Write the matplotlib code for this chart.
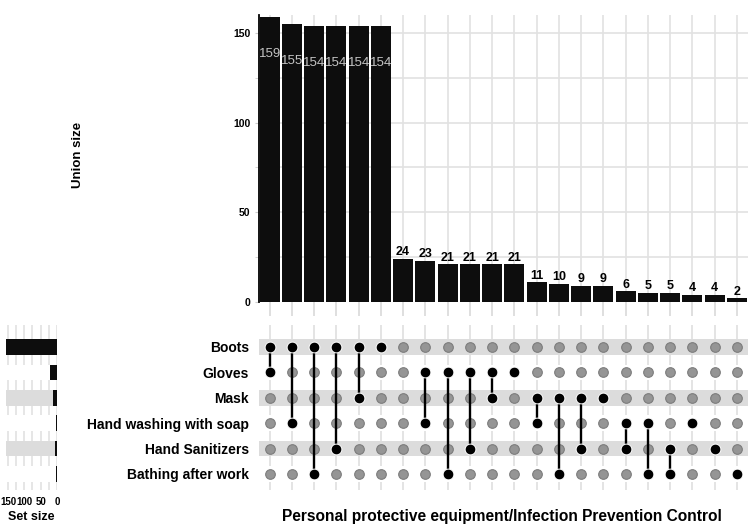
import matplotlib
matplotlib.use("Agg")
import matplotlib.pyplot as plt
import numpy as np

plt.rcParams['font.family'] = ['Liberation Sans', 'DejaVu Sans']

sets = ["Boots", "Gloves", "Mask", "Hand washing with soap",
        "Hand Sanitizers", "Bathing after work"]
set_sizes = [155, 20, 12, 3, 5, 3]
union_sizes = [159, 155, 154, 154, 154, 154, 24, 23, 21, 21, 21, 21,
               11, 10, 9, 9, 6, 5, 5, 4, 4, 2]
intersections = [
    ("Boots", "Gloves"),
    ("Boots", "Hand washing with soap"),
    ("Boots", "Bathing after work"),
    ("Boots", "Hand Sanitizers"),
    ("Boots", "Mask"),
    ("Boots",),
    (),
    ("Gloves", "Hand washing with soap"),
    ("Gloves", "Bathing after work"),
    ("Gloves", "Hand Sanitizers"),
    ("Gloves", "Mask"),
    ("Gloves",),
    ("Mask", "Hand washing with soap"),
    ("Mask", "Bathing after work"),
    ("Mask", "Hand Sanitizers"),
    ("Mask",),
    ("Hand washing with soap", "Hand Sanitizers"),
    ("Hand washing with soap", "Bathing after work"),
    ("Hand Sanitizers", "Bathing after work"),
    ("Hand washing with soap",),
    ("Hand Sanitizers",),
    ("Bathing after work",),
]

W, H = 751, 527
fig = plt.figure(figsize=(W / 100, H / 100), dpi=100)


def ax_px(x0, y0, x1, y1):
    return fig.add_axes([x0 / W, 1 - y1 / H, (x1 - x0) / W, (y1 - y0) / H])


BAR = '#0d0d0d'
GRID = '#e2e2e2'
STRIPE = '#dcdcdc'
n = len(union_sizes)
xs = np.arange(n)
rows = np.arange(len(sets))

# ---------------- top bar panel ----------------
axb = ax_px(258.5, 15, 748, 302)
axb.set_xlim(-0.5, n - 0.5)
axb.set_ylim(0, 160)
for v in [25, 50, 75, 100, 125, 150]:
    axb.axhline(v, color=GRID, lw=1.2, zorder=0)
for x in xs:
    axb.axvline(x, color=GRID, lw=1.2, zorder=0)
axb.bar(xs, union_sizes, width=0.9, color=BAR, zorder=3)
for x, v in zip(xs, union_sizes):
    if v > 100:
        axb.annotate(str(v), (x, v), xytext=(0, -27), textcoords='offset points',
                     ha='center', va='center', color='#c4c4c4', fontsize=9.5, zorder=4)
    else:
        axb.annotate(str(v), (x, v), xytext=(0, 0.5), textcoords='offset points',
                     ha='center', va='bottom', color='black', fontsize=9,
                     fontweight='bold', zorder=4)
for s in ['top', 'right', 'bottom']:
    axb.spines[s].set_visible(False)
axb.spines['left'].set_linewidth(1.3)
axb.spines['left'].set_color('black')
axb.set_yticks([0, 50, 100, 150])
axb.set_yticklabels(['0', '50', '100', '150'], fontsize=7.5, fontweight='bold')
axb.set_yticks([25, 75, 125], minor=True)
axb.tick_params(axis='y', which='both', length=3, color='#cccccc', pad=3)
axb.set_xticks(xs)
axb.set_xticklabels([])
axb.tick_params(axis='x', length=10, width=1.2, color='#d9d9d9', direction='out')

fig.text(78 / W, 1 - 155 / H, 'Union size', rotation=90, ha='center', va='center',
         fontsize=9.5, fontweight='bold')

# ---------------- matrix panel ----------------
axm = ax_px(258.5, 325, 748, 490)
axm.set_xlim(-0.5, n - 0.5)
axm.set_ylim(5.63, -0.866)
for x in xs:
    axm.axvline(x, color=GRID, lw=1.3, zorder=0)
for r in rows:
    axm.axhspan(r - 0.31, r + 0.31, color=STRIPE if r % 2 == 0 else 'white',
                lw=0, zorder=1)
idx = {s: i for i, s in enumerate(sets)}
for x, inter in zip(xs, intersections):
    active = [idx[s] for s in inter]
    inactive = [r for r in rows if r not in active]
    axm.scatter([x] * len(inactive), inactive, s=48, color='#959595',
                edgecolors='#7c7c7c', linewidths=0.8, zorder=2)
    if len(active) > 1:
        axm.plot([x, x], [min(active), max(active)], color='black', lw=1.7,
                 zorder=3, solid_capstyle='butt')
    if active:
        axm.scatter([x] * len(active), active, s=60, color='black',
                    edgecolors='white', linewidths=0.7, zorder=4)
for s in axm.spines.values():
    s.set_visible(False)
axm.set_xticks([])
axm.set_yticks(rows)
axm.set_yticklabels(sets, fontsize=10, fontweight='bold')
axm.tick_params(axis='y', length=0, pad=7)

fig.text(502 / W, 1 - 517 / H,
         'Personal protective equipment/Infection Prevention Control',
         ha='center', va='center', fontsize=11.2, fontweight='bold')

# ---------------- set size panel ----------------
axs = ax_px(6, 325, 57, 490)
axs.set_xlim(156, 0)
axs.set_ylim(5.63, -0.866)
for v in [0, 25, 50, 75, 100, 125, 150]:
    axs.axvline(v, color=GRID, lw=1.2, zorder=0)
for r in rows:
    axs.axhspan(r - 0.31, r + 0.31, color=STRIPE if r % 2 == 0 else 'white',
                lw=0, zorder=1)
axs.barh(rows, set_sizes, height=0.62, color=BAR, zorder=3)
for s in axs.spines.values():
    s.set_visible(False)
axs.set_yticks([])
axs.set_xticks([150, 100, 50, 0])
axs.set_xticklabels(['150', '100', '50', '0'], fontsize=7, fontweight='bold')
axs.tick_params(axis='x', length=0, pad=5)
fig.text(31 / W, 1 - 517 / H, 'Set size', ha='center', va='center',
         fontsize=9, fontweight='bold')

fig.savefig('out.png', dpi=100)
